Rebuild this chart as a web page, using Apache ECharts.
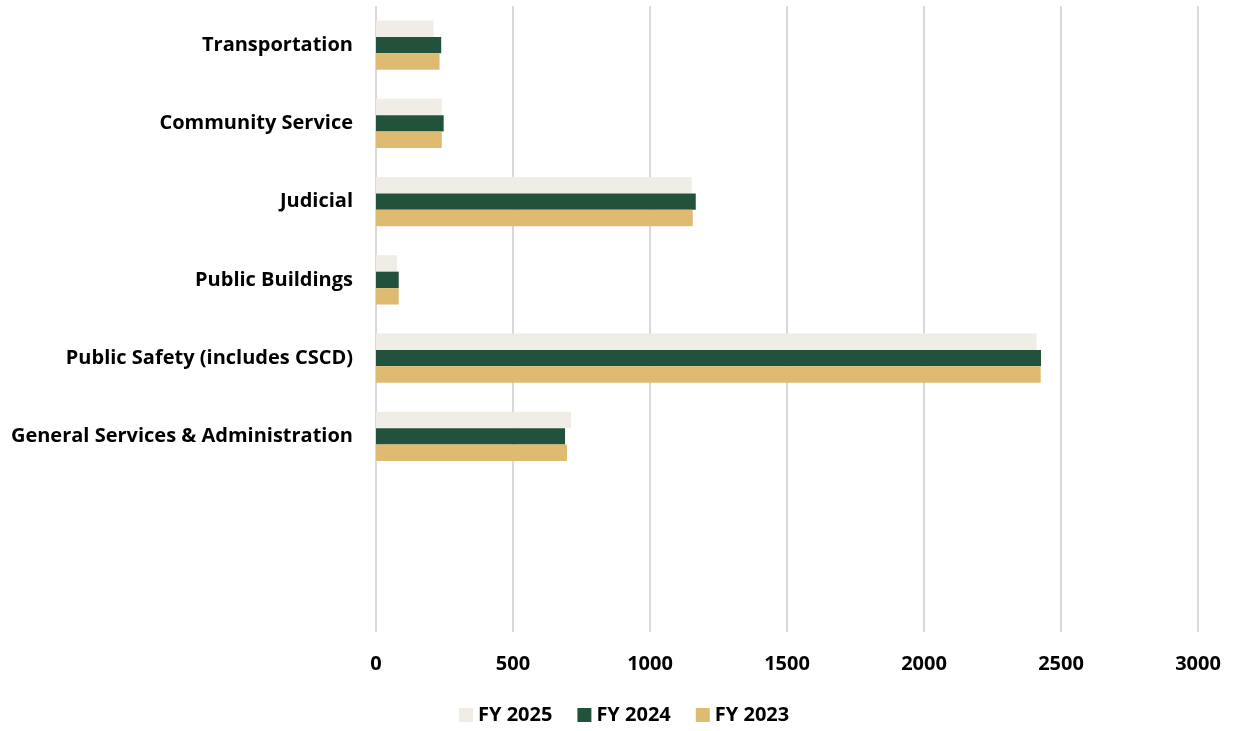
<!DOCTYPE html>
<html>
<head>
<meta charset="utf-8">
<script src="https://cdn.jsdelivr.net/npm/echarts@6/dist/echarts.min.js"></script>
<style>
  html, body { margin: 0; padding: 0; background: #fff; }
  #chart { width: 1234px; height: 731px; }
</style>
</head>
<body>
<div id="chart"></div>
<script>
// categories bottom to top (two empty slots at the bottom)
const categories = [
  "",
  "",
  "General Services & Administration",
  "Public Safety (includes CSCD)",
  "Public Buildings",
  "Judicial",
  "Community Service",
  "Transportation"
];
const fy2025 = [null, null, 712, 2411, 77, 1152, 240, 210];
const fy2024 = [null, null, 690, 2427, 83, 1167, 247, 238];
const fy2023 = [null, null, 697, 2426, 83, 1156, 240, 232];
const seriesNames = ["FY 2025", "FY 2024", "FY 2023"];
const colors = ["#f0ede6", "#23523c", "#dfbb72"];

const font = "'Open Sans', sans-serif";
const chart = echarts.init(document.getElementById("chart"));

const makeSeries = (name, data, i) => ({
  name: name,
  type: "bar",
  data: data,
  barGap: "0%",
  barCategoryGap: "37%",
  itemStyle: { color: colors[i] },
  animation: false,
});

chart.setOption({
  backgroundColor: "#fff",
  grid: {
    left: 376,
    right: 36,
    top: 6,
    bottom: 99,
    containLabel: false,
  },
  legend: {
    data: seriesNames,
    bottom: 1,
    left: 454,
    itemWidth: 14,
    itemHeight: 14,
    itemGap: 25,
    icon: "rect",
    textStyle: {
      fontFamily: font,
      fontWeight: "bold",
      fontSize: 20,
      color: "#000",
    },
  },
  xAxis: {
    type: "value",
    min: 0,
    max: 3000,
    interval: 500,
    axisLine: { show: false },
    axisTick: { show: false },
    splitLine: { lineStyle: { color: "#d9d9d9", width: 2 } },
    axisLabel: {
      margin: 22,
      formatter: (v) => String(v),
      fontFamily: font,
      fontWeight: "bold",
      fontSize: 20,
      color: "#000",
    },
  },
  yAxis: {
    type: "category",
    data: categories,
    axisLine: { show: false },
    axisTick: { show: false },
    axisLabel: {
      margin: 23,
      padding: [7, 0, 0, 0],
      fontFamily: font,
      fontWeight: "bold",
      fontSize: 20,
      color: "#000",
    },
  },
  series: [
    makeSeries(seriesNames[0], fy2025, 0),
    makeSeries(seriesNames[1], fy2024, 1),
    makeSeries(seriesNames[2], fy2023, 2),
  ],
});
</script>
</body>
</html>
